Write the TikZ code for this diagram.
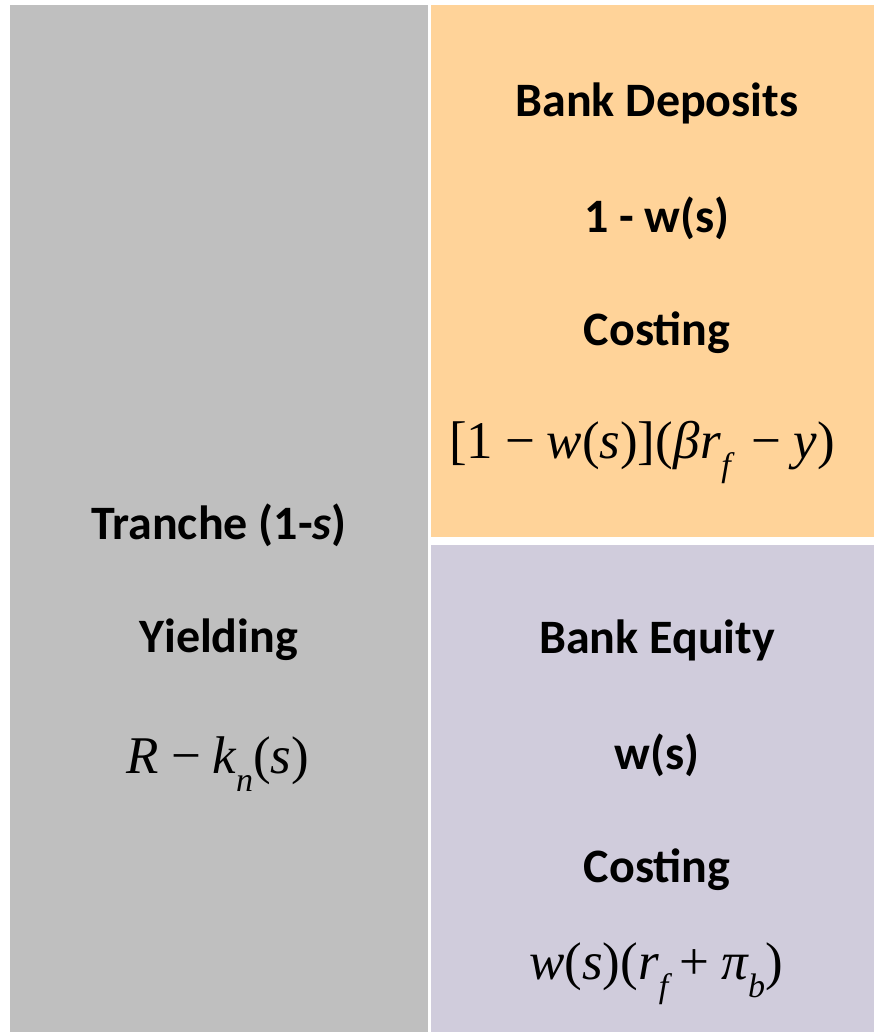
\documentclass[tikz,border=0pt]{standalone}
\usepackage{fontspec}
\setmainfont{Carlito}
\newfontfamily\serifm{Liberation Serif}
\newcommand\mi[1]{{\serifm\itshape #1}}
\newcommand\mr[1]{{\serifm\upshape #1}}
\newcommand\sbs[1]{\raisebox{-0.34em}{\fontsize{34}{34}\selectfont\serifm\itshape #1}}
\newcommand\msp{\hspace{0.22em}}
\definecolor{grayfill}{HTML}{BFBFBF}
\definecolor{orangefill}{HTML}{FFD399}
\definecolor{purplefill}{HTML}{D0CCDC}
\tikzset{
  lbl/.style={font=\fontsize{48}{48}\selectfont\bfseries, inner sep=0pt},
  mth/.style={font=\fontsize{53}{53}\selectfont\serifm, inner sep=0pt},
}
\begin{document}
\begin{tikzpicture}[x=1pt,y=-1pt]
\useasboundingbox (0,0) rectangle (874,1032);
\fill[white] (0,0) rectangle (874,1032);
\fill[grayfill] (10,5) rectangle (428,1032);
\fill[orangefill] (431,5) rectangle (874,537);
\fill[purplefill] (431,545) rectangle (874,1032);
% deposits
\node[lbl] (bd) at (657,103) {Bank Deposits};
\node[lbl] (bdw) at (657,218) {1 - w(s)};
\node[lbl] (bdc) at (657,333) {Costing};
\node[mth] (bdm) at (642,452) {\mr{[1\msp−\msp}\mi{w}\mr{(}\mi{s}\mr{)](}\mi{β\kern1pt r}\sbs{f}\mr{\hspace{0.4em}−\msp}\mi{y}\mr{)}};
% tranche
\node[lbl] (tr) at (219,525) {Tranche (1-\textit{s})};
\node[lbl] (ty) at (219,640) {Yielding};
\node[mth] (tm) at (218,764) {\mi{R}\mr{\msp−\msp}\mi{k}\sbs{n}\mr{(}\mi{s}\mr{)}};
% equity
\node[lbl] (be) at (657,640) {Bank Equity};
\node[lbl] (bew) at (657,755) {w(s)};
\node[lbl] (bec) at (657,870) {Costing};
\node[mth] (bem) at (656,974) {\mi{w}\mr{(}\mi{s}\mr{)(}\mi{r}\sbs{f}\mr{\msp+\msp}\mi{π}\sbs{b}\mr{)}};
\end{tikzpicture}
\end{document}
